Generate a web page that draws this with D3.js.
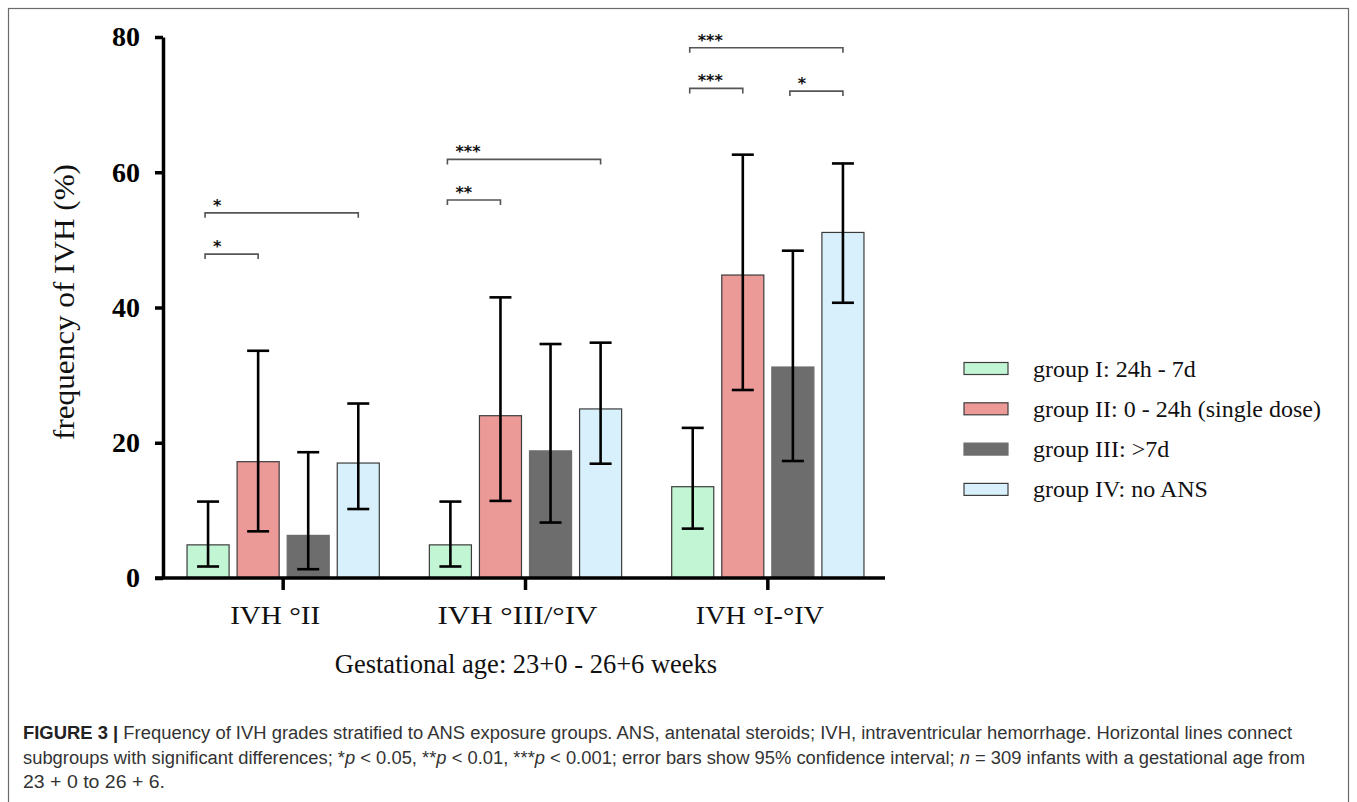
<!DOCTYPE html>
<html>
<head>
<meta charset="utf-8">
<script src="https://cdn.jsdelivr.net/npm/d3@7"></script>
<style>
  body { margin: 0; background: #fff; }
</style>
</head>
<body>
<script>
// categories on the x axis
var categories = ["IVH °II", "IVH °III/°IV", "IVH °I-°IV"];
// ANS exposure groups (legend)
var groups = ["group I: 24h - 7d", "group II: 0 - 24h (single dose)", "group III: >7d", "group IV: no ANS"];

// frequency of IVH (%) per group, one value per category
var freq = [
  [4.9, 4.9, 13.5],
  [17.2, 24.0, 44.8],
  [6.3, 18.8, 31.2],
  [17.0, 25.0, 51.1]
];
// 95% CI lower / upper
var ciLow = [
  [1.7, 1.7, 7.3],
  [6.9, 11.4, 27.8],
  [1.3, 8.2, 17.3],
  [10.2, 16.9, 40.7]
];
var ciHigh = [
  [11.3, 11.3, 22.2],
  [33.6, 41.5, 62.6],
  [18.6, 34.6, 48.4],
  [25.8, 34.8, 61.3]
];

var yTicks = [0, 20, 40, 60, 80];

// significance brackets: [category, from group, to group, level (%), stars]
var brackets = [
  [0, 0, 1, 47.9, "*"],
  [0, 0, 3, 54.0, "*"],
  [1, 0, 1, 55.9, "**"],
  [1, 0, 3, 61.9, "***"],
  [2, 0, 1, 72.4, "***"],
  [2, 2, 3, 72.0, "*"],
  [2, 0, 3, 78.4, "***"]
];

// caption lines, _x_ marks an italic letter
var caption = [
  "Frequency of IVH grades stratified to ANS exposure groups. ANS, antenatal steroids; IVH, intraventricular hemorrhage. Horizontal lines connect",
  "subgroups with significant differences; *_p_ < 0.05, **_p_ < 0.01, ***_p_ < 0.001; error bars show 95% confidence interval; _n_ = 309 infants with a gestational age from",
  "23 + 0 to 26 + 6."
];
var captionWidths = [1269, 1282, 142];
var labelWidths = [90, 160, 128];

var colors = ["#c2f5d4", "#ec9a98", "#6d6d6d", "#d8f0fb"];
var strokes = ["#3c3c3c", "#3c3c3c", "#6d6d6d", "#3c3c3c"];
var serif = "'Liberation Serif', 'Times New Roman', serif";

var svg = d3.select("body").append("svg")
    .attr("width", 1357)
    .attr("height", 802);

// figure frame
svg.append("rect")
    .attr("x", 8.5).attr("y", 8.5)
    .attr("width", 1340).attr("height", 900)
    .attr("fill", "none")
    .attr("stroke", "#6a6a6a")
    .attr("stroke-width", 1.2);

var y = d3.scaleLinear().domain([0, 80]).range([578, 37]);
var x0 = d3.scaleBand().domain(categories).range([162, 889]);
var x1 = d3.scaleBand().domain(d3.range(groups.length))
    .range([0, x0.bandwidth()])
    .paddingInner(0.16)
    .paddingOuter(0.5);

// bars
var barData = [];
groups.forEach(function(g, gi) {
  categories.forEach(function(c, ci) {
    barData.push({g: gi, c: c, ci: ci, v: freq[gi][ci], lo: ciLow[gi][ci], hi: ciHigh[gi][ci]});
  });
});

svg.selectAll("rect.bar").data(barData).enter().append("rect")
    .attr("class", "bar")
    .attr("x", function(d) { return x0(d.c) + x1(d.g); })
    .attr("y", function(d) { return y(d.v); })
    .attr("width", x1.bandwidth())
    .attr("height", function(d) { return y(0) - y(d.v); })
    .attr("fill", function(d) { return colors[d.g]; })
    .attr("stroke", function(d) { return strokes[d.g]; })
    .attr("stroke-width", 1.2);

// error bars
var err = svg.selectAll("g.err").data(barData).enter().append("g")
    .attr("class", "err")
    .attr("transform", function(d) { return "translate(" + (x0(d.c) + x1(d.g) + x1.bandwidth() / 2) + ",0)"; })
    .attr("stroke", "#000")
    .attr("stroke-width", 2.6);
err.append("line")
    .attr("y1", function(d) { return y(d.lo); })
    .attr("y2", function(d) { return y(d.hi); });
err.append("line")
    .attr("x1", -11).attr("x2", 11)
    .attr("y1", function(d) { return y(d.hi); })
    .attr("y2", function(d) { return y(d.hi); });
err.append("line")
    .attr("x1", -11).attr("x2", 11)
    .attr("y1", function(d) { return y(d.lo); })
    .attr("y2", function(d) { return y(d.lo); });

// axes
var yAxis = svg.append("g")
    .attr("transform", "translate(163,0)")
    .call(d3.axisLeft(y).tickValues(yTicks).tickSize(8).tickSizeOuter(0).tickPadding(15));
var xAxis = svg.append("g")
    .attr("transform", "translate(0," + y(0) + ")")
    .call(d3.axisBottom(x0).tickSize(12).tickSizeOuter(0).tickPadding(16));

[yAxis, xAxis].forEach(function(a) {
  a.select(".domain").attr("stroke", "#000").attr("stroke-width", 3.5);
  a.selectAll(".tick line").attr("stroke", "#000").attr("stroke-width", 3.5);
});
xAxis.select(".domain").attr("d", "M155,0H885");
yAxis.selectAll(".tick text")
    .attr("font-family", serif)
    .attr("font-weight", "bold")
    .attr("font-size", 28)
    .attr("fill", "#000");
xAxis.selectAll(".tick text")
    .attr("font-family", serif)
    .attr("font-size", 26)
    .attr("dx", -8)
    .attr("textLength", function(d, i) { return labelWidths[i]; })
    .attr("lengthAdjust", "spacingAndGlyphs")
    .attr("fill", "#111");

// axis titles
svg.append("text")
    .attr("transform", "translate(74,302) rotate(-90)")
    .attr("text-anchor", "middle")
    .attr("font-family", serif)
    .attr("font-size", 29)
    .attr("textLength", 276)
    .attr("lengthAdjust", "spacingAndGlyphs")
    .attr("fill", "#111")
    .text("frequency of IVH (%)");

svg.append("text")
    .attr("x", 526).attr("y", 673)
    .attr("text-anchor", "middle")
    .attr("font-family", serif)
    .attr("font-size", 26.5)
    .attr("fill", "#111")
    .text("Gestational age: 23+0 - 26+6 weeks");

// significance brackets
var br = svg.selectAll("g.br").data(brackets).enter().append("g").attr("class", "br");
br.append("path")
    .attr("d", function(d) {
      var c = categories[d[0]];
      var xa = x0(c) + x1(d[1]) + x1.bandwidth() / 2 - 3;
      var xb = x0(c) + x1(d[2]) + x1.bandwidth() / 2;
      var yy = y(d[3]);
      return "M" + xa + "," + (yy + 5) + "V" + yy + "H" + xb + "V" + (yy + 5);
    })
    .attr("fill", "none")
    .attr("stroke", "#555")
    .attr("stroke-width", 1.6);
br.append("text")
    .attr("x", function(d) { return x0(categories[d[0]]) + x1(d[1]) + x1.bandwidth() / 2 + 5; })
    .attr("y", function(d) { return y(d[3]) - 2; })
    .attr("font-family", "'DejaVu Sans', sans-serif")
    .attr("font-weight", "bold")
    .attr("font-size", 16)
    .attr("fill", "#111")
    .text(function(d) { return d[4]; });

// legend
var legend = svg.selectAll("g.leg").data(groups).enter().append("g")
    .attr("class", "leg")
    .attr("transform", function(d, i) { return "translate(964," + (368.5 + i * 40.3) + ")"; });
legend.append("rect")
    .attr("x", 0).attr("y", -6)
    .attr("width", 44).attr("height", 12)
    .attr("fill", function(d, i) { return colors[i]; })
    .attr("stroke", function(d, i) { return strokes[i]; })
    .attr("stroke-width", 1.2);
legend.append("text")
    .attr("x", 69).attr("y", 8)
    .attr("font-family", serif)
    .attr("font-size", 24)
    .attr("fill", "#111")
    .text(function(d) { return d; });

// caption
var cap = svg.append("g")
    .attr("font-family", "'Liberation Sans', Arial, sans-serif")
    .attr("font-size", 18)
    .attr("fill", "#333");
caption.forEach(function(line, i) {
  var t = cap.append("text")
      .attr("x", 23)
      .attr("y", 739 + i * 24.5)
      .attr("textLength", captionWidths[i])
      .attr("lengthAdjust", "spacingAndGlyphs");
  if (i === 0) {
    t.append("tspan").attr("font-weight", "bold").attr("fill", "#222").text("FIGURE 3 | ");
  }
  line.split("_").forEach(function(part, k) {
    if (!part) return;
    var s = t.append("tspan").text(part);
    if (k % 2 === 1) s.attr("font-style", "italic");
  });
});
</script>
</body>
</html>
